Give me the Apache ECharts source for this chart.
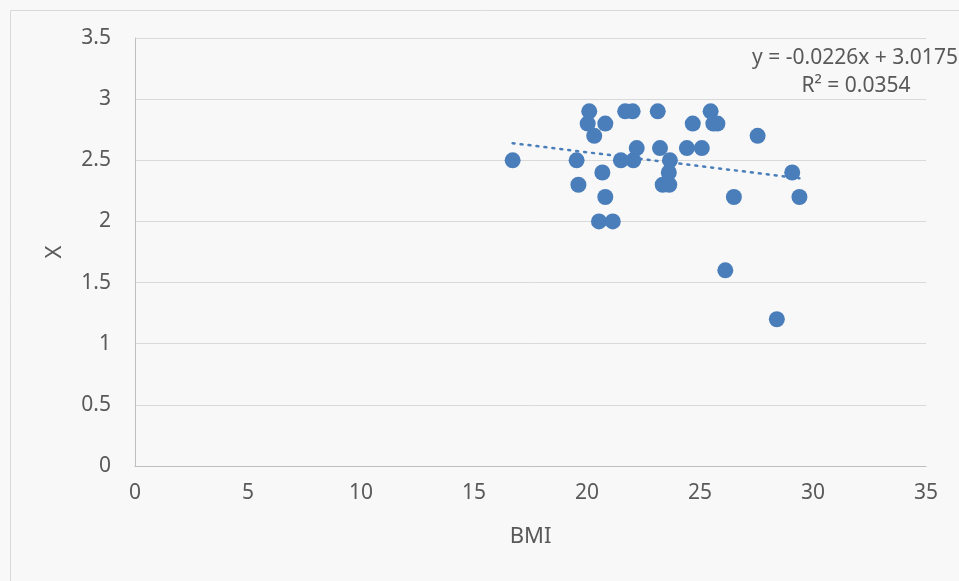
<!DOCTYPE html>
<html><head><meta charset="utf-8">
<script src="https://cdn.jsdelivr.net/npm/echarts@6/dist/echarts.min.js"></script>
<style>html,body{margin:0;padding:0;background:#fafafa}#c{width:959px;height:581px}</style>
</head><body><div id="c"></div>
<script>
const bmi = [16.71,19.54,19.62,20.10,20.03,20.81,20.32,20.68,20.81,20.53,21.14,21.69,22.02,21.50,22.05,22.20,23.13,23.23,23.67,23.62,23.35,23.64,24.42,25.08,24.68,25.47,25.59,25.77,27.55,26.12,26.50,28.40,29.08,29.40];
const xVals = [2.5,2.5,2.3,2.9,2.8,2.8,2.7,2.4,2.2,2.0,2.0,2.9,2.9,2.5,2.5,2.6,2.9,2.6,2.5,2.4,2.3,2.3,2.6,2.6,2.8,2.9,2.8,2.8,2.7,1.6,2.2,1.2,2.4,2.2];
const trendX = [16.71, 29.40];
const trendY = [2.640, 2.353];
const xTicks = [0,5,10,15,20,25,30,35];
const yTicks = [0,0.5,1,1.5,2,2.5,3,3.5];
const eqText = 'y = -0.0226x + 3.0175';
const r2Text = 'R² = 0.0354';

const font = 'Noto Sans';
const chart = echarts.init(document.getElementById('c'));
chart.setOption({
  backgroundColor: '#f8f8f8',
  animation: false,
  grid: {left: 135, right: 33, top: 38, bottom: 115},
  xAxis: {
    type: 'value', min: 0, max: 35, interval: 5,
    name: 'BMI', nameLocation: 'middle', nameGap: 60,
    nameTextStyle: {color: '#595959', fontSize: 22, fontFamily: font},
    axisLine: {show: true, lineStyle: {color: '#bfbfbf', width: 1}},
    axisTick: {show: false},
    splitLine: {show: false},
    axisLabel: {color: '#595959', fontSize: 21, fontFamily: font, margin: 17}
  },
  yAxis: {
    type: 'value', min: 0, max: 3.5, interval: 0.5,
    name: 'X', nameLocation: 'middle', nameGap: 69, nameRotate: 90,
    nameTextStyle: {color: '#595959', fontSize: 22, fontFamily: font},
    axisLine: {show: true, lineStyle: {color: '#bfbfbf', width: 1}},
    axisTick: {show: false},
    splitLine: {show: true, lineStyle: {color: '#d9d9d9', width: 1}},
    axisLabel: {color: '#595959', fontSize: 21, fontFamily: font, margin: 24}
  },
  series: [
    {
      type: 'scatter', symbolSize: 16,
      itemStyle: {color: '#4a7ebb', opacity: 1},
      data: bmi.map((b, i) => [b, xVals[i]]),
      z: 3
    },
    {
      type: 'line', symbol: 'none',
      lineStyle: {color: '#4a7ebb', width: 2.5, type: [2, 6], cap: 'round'},
      data: trendX.map((t, i) => [t, trendY[i]]),
      z: 4
    }
  ],
  graphic: [
    {type: 'rect', left: 8, top: 8, shape: {width: 960, height: 580}, style: {fill: 'none', stroke: '#d9d9d9', lineWidth: 1}, silent: true},
    {type: 'text', x: 855, y: 58, style: {text: eqText, fill: '#595959', font: '21px "Noto Sans"', textAlign: 'center', textVerticalAlign: 'middle'}},
    {type: 'text', x: 856, y: 86, style: {text: r2Text, fill: '#595959', font: '21px "Noto Sans"', textAlign: 'center', textVerticalAlign: 'middle'}}
  ]
});
</script></body></html>
